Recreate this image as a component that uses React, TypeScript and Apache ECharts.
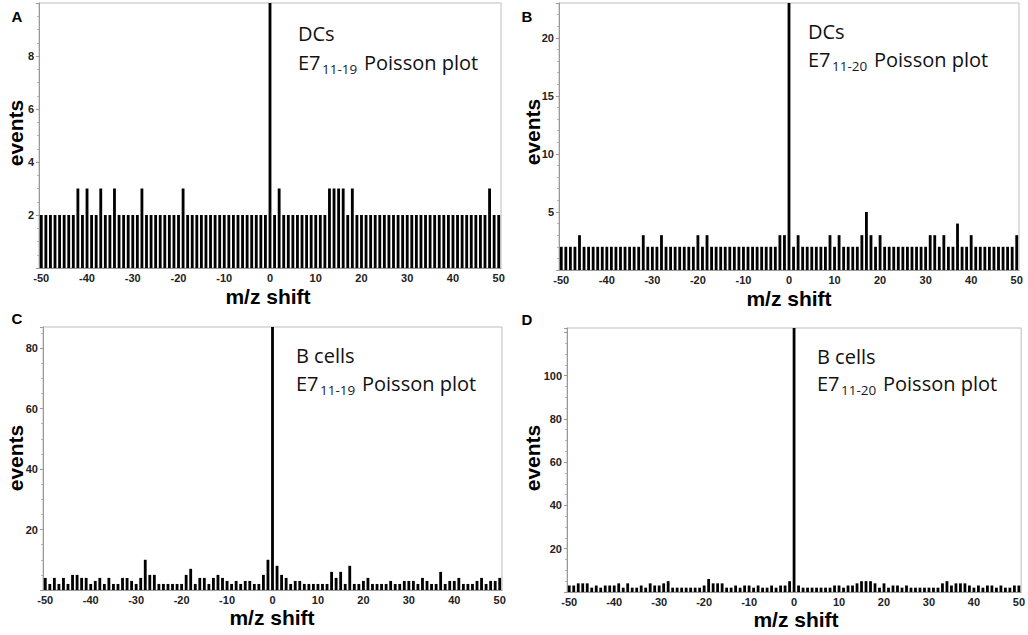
import React, { useEffect, useRef } from "react";
import * as echarts from "echarts";

const shifts = [
  -50, -49, -48, -47, -46, -45, -44, -43, -42, -41,
  -40, -39, -38, -37, -36, -35, -34, -33, -32, -31,
  -30, -29, -28, -27, -26, -25, -24, -23, -22, -21,
  -20, -19, -18, -17, -16, -15, -14, -13, -12, -11,
  -10, -9, -8, -7, -6, -5, -4, -3, -2, -1,
  0,
  1, 2, 3, 4, 5, 6, 7, 8, 9, 10,
  11, 12, 13, 14, 15, 16, 17, 18, 19, 20,
  21, 22, 23, 24, 25, 26, 27, 28, 29, 30,
  31, 32, 33, 34, 35, 36, 37, 38, 39, 40,
  41, 42, 43, 44, 45, 46, 47, 48, 49, 50,
];

// Panel A: DCs, E7 11-19
const dcs1119 = [
  2, 2, 2, 2, 2, 2, 2, 2, 3, 2,
  3, 2, 2, 3, 2, 2, 3, 2, 2, 2,
  2, 2, 3, 2, 2, 2, 2, 2, 2, 2,
  2, 3, 2, 2, 2, 2, 2, 2, 2, 2,
  2, 2, 2, 2, 2, 2, 2, 2, 2, 2,
  12,
  2, 3, 2, 2, 2, 2, 2, 2, 2, 2,
  2, 2, 3, 3, 3, 3, 2, 3, 2, 2,
  2, 2, 2, 2, 2, 2, 2, 2, 2, 2,
  2, 2, 2, 2, 2, 2, 2, 2, 2, 2,
  2, 2, 2, 2, 2, 2, 2, 3, 2, 2,
];

// Panel B: DCs, E7 11-20
const dcs1120 = [
  2, 2, 2, 2, 3, 2, 2, 2, 2, 2,
  2, 2, 2, 2, 2, 2, 2, 2, 3, 2,
  2, 2, 3, 2, 2, 2, 2, 2, 2, 2,
  3, 2, 3, 2, 2, 2, 2, 2, 2, 2,
  2, 2, 2, 2, 2, 2, 2, 2, 3, 3,
  25,
  2, 3, 2, 2, 2, 2, 2, 2, 3, 2,
  3, 2, 2, 2, 2, 3, 5, 3, 2, 3,
  2, 2, 2, 2, 2, 2, 2, 2, 2, 2,
  3, 3, 2, 3, 2, 2, 4, 2, 2, 3,
  2, 2, 2, 2, 2, 2, 2, 2, 2, 3,
];

// Panel C: B cells, E7 11-19
const bcells1119 = [
  4, 2, 4, 2, 4, 2, 5, 5, 4, 4,
  2, 3, 4, 2, 4, 2, 2, 4, 4, 3,
  2, 4, 10, 5, 5, 2, 2, 2, 2, 2,
  2, 5, 7, 2, 4, 4, 2, 4, 5, 4,
  3, 2, 3, 2, 3, 3, 2, 2, 5, 10,
  90,
  8, 5, 4, 2, 3, 3, 2, 2, 2, 2,
  2, 2, 6, 4, 6, 2, 8, 2, 2, 3,
  4, 2, 2, 2, 2, 3, 2, 2, 3, 3,
  3, 2, 4, 3, 2, 2, 6, 2, 3, 3,
  4, 2, 2, 2, 3, 4, 2, 3, 3, 4,
];

// Panel D: B cells, E7 11-20
const bcells1120 = [
  3, 3, 4, 4, 4, 2, 3, 2, 3, 3,
  3, 4, 2, 4, 2, 2, 3, 2, 4, 3,
  3, 4, 5, 2, 2, 2, 2, 2, 2, 2,
  3, 6, 4, 4, 4, 2, 2, 3, 2, 3,
  3, 2, 3, 2, 2, 3, 2, 3, 3, 5,
  125,
  3, 2, 2, 2, 2, 2, 2, 2, 3, 3,
  2, 3, 3, 4, 5, 5, 5, 4, 2, 4,
  2, 3, 3, 2, 3, 2, 2, 2, 2, 2,
  2, 2, 4, 5, 3, 4, 4, 4, 3, 2,
  3, 2, 3, 3, 2, 3, 2, 2, 3, 3,
];

const panelLetters = ["A", "B", "C", "D"];
const cellTypes = ["DCs", "DCs", "B cells", "B cells"];
const peptides = ["11-19", "11-20", "11-19", "11-20"];
const yMax = [10, 23, 87, 122];
const yInterval = [2, 5, 20, 20];
const yLabelMax = [8, 20, 80, 100];
const yMinorSplit = [4, 5, 4, 4];

const seriesData = [dcs1119, dcs1120, bcells1119, bcells1120];

// layout (pixels)
const grids = [
  { left: 39, top: 3, width: 462, height: 265 },
  { left: 559, top: 3, width: 460, height: 267 },
  { left: 43, top: 327, width: 459, height: 263 },
  { left: 567, top: 328, width: 456, height: 264 },
];
const letterPos = [
  [17, 16],
  [527, 16],
  [17, 318],
  [527, 319],
];
const yTitlePos = [
  [15, 133],
  [532, 132],
  [15, 458],
  [532, 458],
];
const xTitlePos = [
  [268, 296],
  [789, 298],
  [272, 617],
  [796, 619],
];
const annotPos = [
  [298, 33, 62],
  [808, 31, 59],
  [296, 355, 383],
  [817, 356, 383],
];

const FONT = "'Liberation Sans', Arial, sans-serif";
const ANNOT_FONT = "'Open Sans', 'Noto Sans', sans-serif";

export default function App() {
  const ref = useRef<HTMLDivElement>(null);

  useEffect(() => {
    if (!ref.current) return;
    const chart = echarts.init(ref.current, undefined, { renderer: "svg" });

    const graphic: any[] = [];
    for (let i = 0; i < 4; i++) {
      graphic.push({
        type: "text",
        x: letterPos[i][0],
        y: letterPos[i][1],
        style: {
          text: panelLetters[i],
          font: `bold 15px ${FONT}`,
          fill: "#000",
          align: "center",
          verticalAlign: "middle",
        },
      });
      graphic.push({
        type: "text",
        x: yTitlePos[i][0],
        y: yTitlePos[i][1],
        rotation: Math.PI / 2,
        style: {
          text: "events",
          font: `bold 21px ${FONT}`,
          fill: "#000",
          align: "center",
          verticalAlign: "middle",
        },
      });
      graphic.push({
        type: "text",
        x: xTitlePos[i][0],
        y: xTitlePos[i][1],
        style: {
          text: "m/z shift",
          font: `bold 21px ${FONT}`,
          fill: "#000",
          align: "center",
          verticalAlign: "middle",
        },
      });
      const [ax, ay1, ay2] = annotPos[i];
      graphic.push({
        type: "text",
        x: ax,
        y: ay1,
        style: {
          text: cellTypes[i],
          font: `20px ${ANNOT_FONT}`,
          fill: "#111",
          align: "left",
          verticalAlign: "middle",
        },
      });
      graphic.push({
        type: "text",
        x: ax,
        y: ay2,
        style: {
          text: "E7",
          font: `20px ${ANNOT_FONT}`,
          fill: "#111",
          align: "left",
          verticalAlign: "middle",
        },
      });
      graphic.push({
        type: "text",
        x: ax + 24,
        y: ay2 + 7,
        style: {
          text: peptides[i],
          font: `13.5px ${ANNOT_FONT}`,
          fill: "#1a1a2a",
          align: "left",
          verticalAlign: "middle",
        },
      });
      graphic.push({
        type: "text",
        x: ax + 66,
        y: ay2,
        style: {
          text: "Poisson plot",
          font: `20px ${ANNOT_FONT}`,
          fill: "#111",
          align: "left",
          verticalAlign: "middle",
        },
      });
    }

    const option: any = {
      animation: false,
      backgroundColor: "#fff",
      grid: grids.map((g) => ({
        ...g,
        show: true,
        borderColor: "#bdbdbd",
        borderWidth: 1,
        backgroundColor: "transparent",
        containLabel: false,
      })),
      xAxis: grids.map((_, i) => ({
        type: "category",
        gridIndex: i,
        data: shifts.map(String),
        boundaryGap: true,
        axisLine: { show: true, lineStyle: { color: "#9a9a9a", width: 1 } },
        axisTick: { show: false },
        axisLabel: {
          interval: 9,
          fontFamily: FONT,
          fontWeight: "bold",
          fontSize: 11,
          color: "#222",
          margin: 4,
        },
        splitLine: { show: false },
      })),
      yAxis: grids.map((_, i) => ({
        type: "value",
        gridIndex: i,
        min: 0,
        max: yMax[i],
        interval: yInterval[i],
        axisLine: { show: true, lineStyle: { color: "#9a9a9a", width: 1 } },
        axisTick: { show: true, length: 3, lineStyle: { color: "#9a9a9a" } },
        minorTick: {
          show: true,
          splitNumber: yMinorSplit[i],
          length: 2,
          lineStyle: { color: "#b5b5b5" },
        },
        splitLine: { show: false },
        axisLabel: {
          showMinLabel: false,
          showMaxLabel: false,
          fontFamily: FONT,
          fontWeight: "bold",
          fontSize: 11,
          color: "#222",
          margin: 5,
          formatter: (v: number) => (v > 0 && v <= yLabelMax[i] ? String(v) : ""),
        },
      })),
      series: seriesData.map((d, i) => ({
        type: "bar",
        xAxisIndex: i,
        yAxisIndex: i,
        data: d,
        barWidth: "62%",
        clip: true,
        itemStyle: { color: "#000" },
        emphasis: { disabled: true },
      })),
      graphic,
    };

    chart.setOption(option);
    return () => chart.dispose();
  }, []);

  return (
    <div
      ref={ref}
      style={{ position: "fixed", left: 0, top: 0, width: 1028, height: 635, background: "#fff" }}
    />
  );
}
